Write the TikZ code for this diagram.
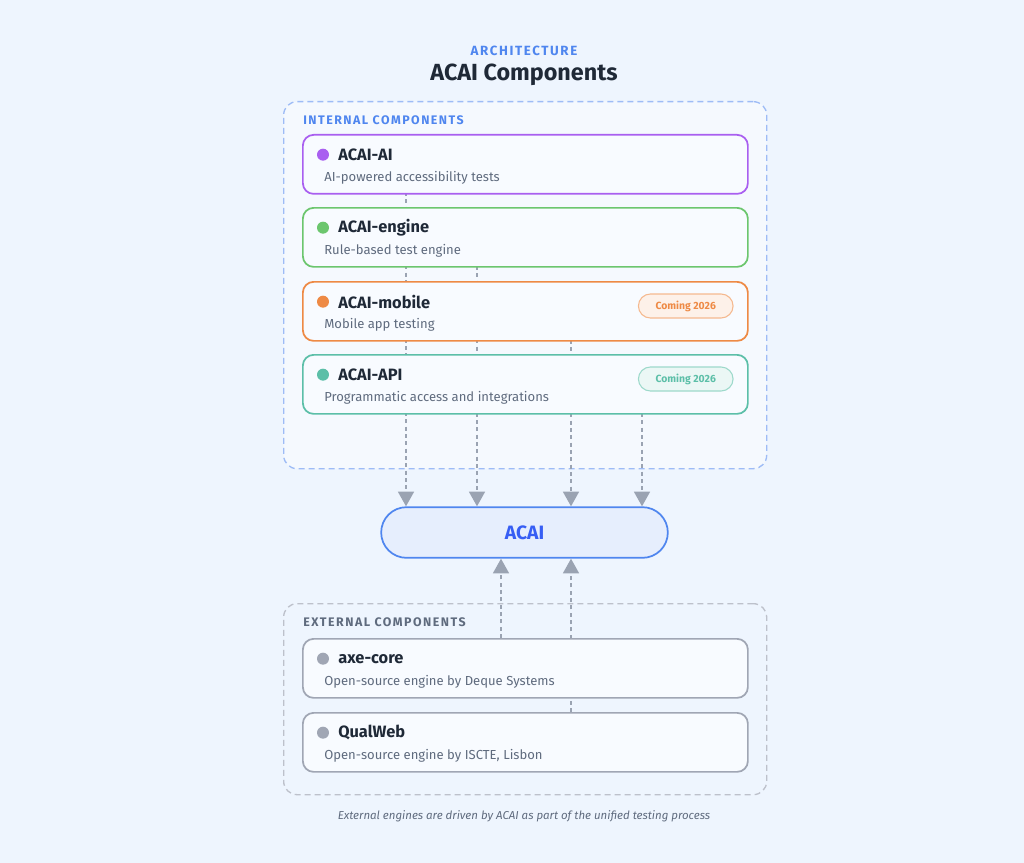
\documentclass[tikz,border=0pt]{standalone}
\usepackage{fontspec}
\setmainfont{Fira Sans}
\usetikzlibrary{positioning,arrows.meta}
\definecolor{bgcol}{HTML}{EEF5FE}
\definecolor{ink}{HTML}{1F2937}
\definecolor{subink}{HTML}{5F6B7E}
\definecolor{accent}{HTML}{4F86EF}
\definecolor{cpurple}{HTML}{A95FF0}
\definecolor{cgreen}{HTML}{6CC66E}
\definecolor{corange}{HTML}{EE8A45}
\definecolor{cteal}{HTML}{5CBFA8}
\definecolor{cgrey}{HTML}{A0A6B4}
\definecolor{conncol}{HTML}{9AA3B2}
\tikzset{
  card/.style={rectangle, rounded corners=8pt, draw=#1, line width=1.3pt, fill=white!60!bgcol,
    minimum width=333.75pt, minimum height=44.25pt, anchor=north west},
  group/.style={rectangle, rounded corners=10pt, draw=#1, dashed, dash pattern=on 4.5pt off 3pt,
    line width=1pt, anchor=north west},
  dot/.style={circle, fill=#1, inner sep=0pt, minimum size=9pt},
  cardtitle/.style={anchor=west, font=\fontsize{12.3}{14}\selectfont\bfseries, text=ink, inner sep=0pt},
  cardsub/.style={anchor=west, font=\fontsize{9.8}{11}\selectfont, text=subink, inner sep=0pt},
  badge/.style={rectangle, rounded corners=9pt, draw=#1!60, fill=#1!12, text=#1, line width=0.8pt,
    font=\fontsize{7.8}{9}\selectfont\bfseries, minimum width=71pt, minimum height=18pt},
  grouplabel/.style={anchor=west, font=\fontsize{9.3}{10}\selectfont\bfseries, inner sep=0pt},
  conn/.style={draw=conncol, line width=1.2pt, dash pattern=on 3pt off 2.5pt,
    -{Triangle[width=12pt,length=11pt]}},
}
\begin{document}
\begin{tikzpicture}[x=0.75pt, y=-0.75pt]
    \fill[bgcol] (0,0) rectangle (1024,863);
    \useasboundingbox (0,0) rectangle (1024,863);

    % heading
    \node(kicker)[font=\fontsize{10}{11}\selectfont\bfseries, text=accent] at (524,51)
      {\addfontfeature{LetterSpace=12}ARCHITECTURE};
    \node(title)[font=\fontsize{17.5}{19}\selectfont\bfseries, text=ink] at (524,75) {ACAI Components};

    % groups
    \node(internal)[group=accent!55, minimum width=362.25pt, minimum height=275.25pt, fill=bgcol!60!white] at (283,101) {};
    \node(external)[group=cgrey!70, minimum width=362.25pt, minimum height=143.25pt] at (283,603) {};
    \node(intlabel)[grouplabel, text=accent] at (303,120) {\addfontfeature{LetterSpace=12}INTERNAL COMPONENTS};
    \node(extlabel)[grouplabel, text=subink] at (303,622) {\addfontfeature{LetterSpace=12}EXTERNAL COMPONENTS};

    % core
    \node(acai)[rectangle, rounded corners=19pt, draw=accent, fill=accent!14!white, line width=1.3pt,
      minimum width=215pt, minimum height=38pt, text=accent!70!blue,
      font=\fontsize{14.5}{16}\selectfont\bfseries] at (524.5,532.5) {ACAI};

    % connectors first, cards cover them
    \coordinate(c1) at (406,192);
    \coordinate(c2) at (477,266);
    \coordinate(c3) at (571,340);
    \coordinate(c4) at (642,413);
    \foreach \c in {c1,c2,c3,c4}
      \draw[conn] (\c) -- (\c |- acai.north);
    \coordinate(e1) at (501,638);
    \coordinate(e2) at (571,712);
    \foreach \c in {e1,e2}
      \draw[conn] (\c) -- (\c |- acai.south);

    % internal cards
    \node(ai)[card=cpurple] at (302,134) {};
    \node(engine)[card=cgreen] at (302,207) {};
    \node(mobile)[card=corange] at (302,281) {};
    \node(api)[card=cteal] at (302,354) {};
    % external cards
    \node(axe)[card=cgrey] at (302,638) {};
    \node(qual)[card=cgrey] at (302,712) {};

    \foreach \n/\col/\name/\desc in {ai/cpurple/ACAI-AI/AI-powered accessibility tests,
        engine/cgreen/ACAI-engine/Rule-based test engine,
        mobile/corange/ACAI-mobile/Mobile app testing,
        api/cteal/ACAI-API/Programmatic access and integrations,
        axe/cgrey/axe-core/Open-source engine by Deque Systems,
        qual/cgrey/QualWeb/{Open-source engine by ISCTE, Lisbon}}{
      \node(\n-dot)[dot=\col] at ([xshift=15.75pt, yshift=-15.5pt]\n.north west) {};
      \node(\n-name)[cardtitle] at ([xshift=27pt, yshift=-15.5pt]\n.north west) {\name};
      \node(\n-desc)[cardsub] at ([xshift=16.5pt, yshift=-32.5pt]\n.north west) {\desc};
    }

    \node(mobile-badge)[badge=corange] at ([xshift=-47.25pt, yshift=-18.75pt]mobile.north east) {Coming 2026};
    \node(api-badge)[badge=cteal] at ([xshift=-47.25pt, yshift=-18.75pt]api.north east) {Coming 2026};

    % footnote
    \node(note)[font=\fontsize{8.6}{10}\selectfont\itshape, text=subink] at (524,816)
      {External engines are driven by ACAI as part of the unified testing process};
\end{tikzpicture}
\end{document}
